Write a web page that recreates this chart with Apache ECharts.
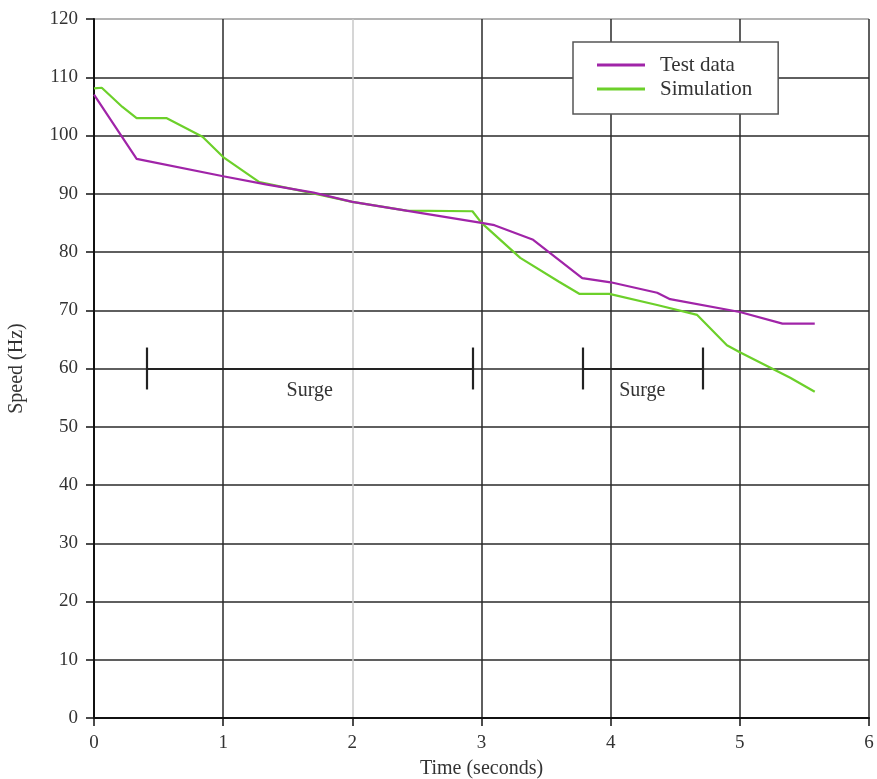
<!DOCTYPE html>
<html>
<head>
<meta charset="utf-8">
<script src="https://cdn.jsdelivr.net/npm/echarts@6/dist/echarts.min.js"></script>
<style>
  html, body { margin: 0; padding: 0; background: #fff; }
  #chart { width: 877px; height: 779px; }
</style>
</head>
<body>
<div id="chart"></div>
<script>
// Time (s) / speed (Hz) samples for each trace
const testTime  = [0, 0.33, 1.0, 1.33, 1.7, 2.0, 3.0, 3.1, 3.4, 3.78, 4.0, 4.36, 4.46, 5.0, 5.33, 5.58];
const testSpeed = [107, 96, 93, 91.6, 90.2, 88.6, 85, 84.6, 82.1, 75.5, 74.8, 73.0, 71.9, 69.7, 67.7, 67.7];

const simTime  = [0, 0.06, 0.22, 0.33, 0.56, 0.84, 1.0, 1.28, 1.67, 2.0, 2.42, 2.93, 3.0, 3.3, 3.6, 3.76, 3.99, 4.36, 4.67, 4.9, 5.0, 5.39, 5.58];
const simSpeed = [108.1, 108.2, 104.9, 103, 103, 99.8, 96.3, 92.0, 90.2, 88.6, 87.1, 87.0, 85.0, 79.0, 74.9, 72.8, 72.8, 70.9, 69.2, 64.0, 62.8, 58.4, 56.0];

// Surge intervals (start, end) marked at a fixed speed level
const surgeStart = [0.41, 3.78];
const surgeEnd   = [2.93, 4.71];
const surgeLevel = 60;
const surgeTickHalf = 3.6;
const surgeLabel = 'Surge';

const xTicks = [0, 1, 2, 3, 4, 5, 6];
const yTicks = [0, 10, 20, 30, 40, 50, 60, 70, 80, 90, 100, 110, 120];

const serif = '"Liberation Serif", "DejaVu Serif", serif';
const ink = '#333';

const zip = (xs, ys) => xs.map((x, i) => [x, ys[i]]);

// Vertical grid line at t=2 is drawn light gray, the top border lighter too
const xLineColors = xTicks.map(t => (t === 2 ? '#c8c8c8' : '#2a2a2a'));
const yLineColors = yTicks.map(v => (v === 120 ? '#9a9a9a' : '#2a2a2a'));

const surgeLines = [];
surgeStart.forEach((s, i) => {
  const e = surgeEnd[i];
  surgeLines.push([
    { coord: [s, surgeLevel], label: { show: true, formatter: surgeLabel } },
    { coord: [e, surgeLevel] }
  ]);
  surgeLines.push([{ coord: [s, surgeLevel - surgeTickHalf] }, { coord: [s, surgeLevel + surgeTickHalf] }]);
  surgeLines.push([{ coord: [e, surgeLevel - surgeTickHalf] }, { coord: [e, surgeLevel + surgeTickHalf] }]);
});

const chart = echarts.init(document.getElementById('chart'), null, { renderer: 'canvas' });
chart.setOption({
  animation: false,
  backgroundColor: '#fff',
  textStyle: { fontFamily: serif },
  grid: { left: 94, right: 8, top: 19, bottom: 61, containLabel: false, outerBoundsMode: 'none' },
  legend: {
    orient: 'vertical',
    left: 573,
    top: 42,
    padding: [11, 26, 13, 24],
    itemGap: 0,
    itemWidth: 48,
    itemHeight: 3,
    icon: 'rect',
    backgroundColor: '#fff',
    borderColor: '#555',
    borderWidth: 1.5,
    borderRadius: 0,
    textStyle: { fontFamily: serif, fontSize: 21, lineHeight: 24, color: ink, padding: [0, 0, 0, 10] },
    data: ['Test data', 'Simulation']
  },
  xAxis: {
    type: 'value',
    min: 0, max: 6, interval: 1,
    name: 'Time (seconds)',
    nameLocation: 'middle',
    nameGap: 41,
    nameTextStyle: { fontFamily: serif, fontSize: 20, color: ink },
    axisLine: { show: true, onZero: false, lineStyle: { color: '#111', width: 2 } },
    axisTick: { show: true, length: 8, lineStyle: { color: '#111', width: 1.5 } },
    axisLabel: { fontFamily: serif, fontSize: 19, color: ink, margin: 16 },
    splitLine: { show: true, lineStyle: { color: xLineColors, width: 1.5 } }
  },
  yAxis: {
    type: 'value',
    min: 0, max: 120, interval: 10,
    name: 'Speed (Hz)',
    nameLocation: 'middle',
    nameGap: 67,
    nameRotate: 90,
    nameTextStyle: { fontFamily: serif, fontSize: 20, color: ink },
    axisLine: { show: true, onZero: false, lineStyle: { color: '#111', width: 2 } },
    axisTick: { show: true, length: 8, lineStyle: { color: '#111', width: 1.5 } },
    axisLabel: { fontFamily: serif, fontSize: 19, color: ink, margin: 16 },
    splitLine: { show: true, lineStyle: { color: yLineColors, width: 1.5 } }
  },
  series: [
    {
      name: 'Test data',
      type: 'line',
      data: zip(testTime, testSpeed),
      symbol: 'none',
      z: 4,
      color: '#a024a8',
      lineStyle: { color: '#a024a8', width: 2.2 }
    },
    {
      name: 'Simulation',
      type: 'line',
      data: zip(simTime, simSpeed),
      symbol: 'none',
      z: 3,
      color: '#6cd02a',
      lineStyle: { color: '#6cd02a', width: 2.2 },
      markLine: {
        silent: true,
        symbol: ['none', 'none'],
        animation: false,
        lineStyle: { color: '#222', width: 2.2, type: 'solid' },
        label: {
          show: false,
          position: 'insideMiddleBottom',
          distance: 12,
          fontFamily: serif,
          fontSize: 20,
          color: ink
        },
        emphasis: { disabled: true },
        data: surgeLines
      }
    }
  ]
});
</script>
</body>
</html>
